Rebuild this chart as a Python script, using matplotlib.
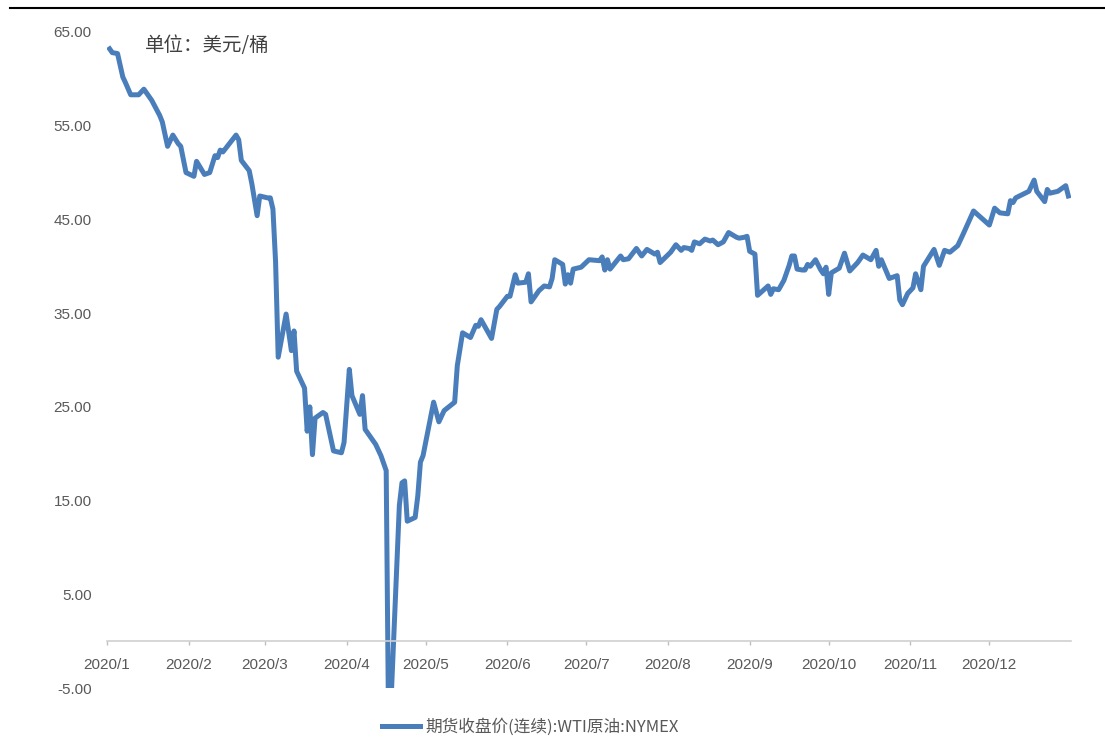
import pandas as pd
import numpy as np
import matplotlib
matplotlib.use('Agg')
import matplotlib.pyplot as plt
from matplotlib.lines import Line2D

# 期货收盘价(连续):WTI原油:NYMEX, 2020
dates = [
    '01-02', '01-03', '01-05', '01-07', '01-08', '01-10', '01-13', '01-15', '01-18', '01-21',
    '01-22', '01-24', '01-26', '01-28', '01-29', '01-31',
    '02-03', '02-04', '02-07', '02-09', '02-11', '02-12', '02-13', '02-14', '02-19', '02-20',
    '02-21', '02-24', '02-25', '02-27', '02-28',
    '03-02', '03-03', '03-04', '03-05', '03-06', '03-09', '03-11', '03-12', '03-13', '03-16',
    '03-17', '03-18', '03-19', '03-20', '03-23', '03-24', '03-27', '03-30', '03-31',
    '04-02', '04-03', '04-06', '04-07', '04-08', '04-12', '04-14', '04-16', '04-17',
    '04-21', '04-22', '04-23', '04-24', '04-27', '04-28', '04-29', '04-30',
    '05-04', '05-06', '05-08', '05-12', '05-13', '05-15', '05-18', '05-20', '05-21', '05-22',
    '05-26', '05-28', '05-29',
    '06-01', '06-02', '06-04', '06-05', '06-08', '06-09', '06-10', '06-13', '06-15', '06-17',
    '06-18', '06-19', '06-22', '06-23', '06-24', '06-25', '06-26', '06-29',
    '07-02', '07-06', '07-07', '07-08', '07-09', '07-10', '07-14', '07-15', '07-17', '07-20',
    '07-22', '07-24', '07-27', '07-28', '07-29',
    '08-02', '08-04', '08-06', '08-07', '08-09', '08-10', '08-11', '08-13', '08-15', '08-17',
    '08-18', '08-20', '08-22', '08-24', '08-27', '08-28', '08-30', '08-31',
    '09-01', '09-03', '09-04', '09-06', '09-08', '09-09', '09-10', '09-12', '09-14', '09-16',
    '09-17', '09-18', '09-19', '09-21', '09-22', '09-23', '09-24', '09-26', '09-28', '09-29',
    '09-30',
    '10-01', '10-02', '10-05', '10-07', '10-09', '10-12', '10-14', '10-17', '10-19', '10-20',
    '10-21', '10-24', '10-27', '10-28', '10-29', '10-31',
    '11-02', '11-03', '11-05', '11-06', '11-10', '11-12', '11-14', '11-16', '11-19', '11-21',
    '11-25',
    '12-01', '12-03', '12-05', '12-08', '12-09', '12-10', '12-11', '12-16', '12-18', '12-19',
    '12-22', '12-23', '12-24', '12-27', '12-30', '12-31',
]
prices = [
    63.2, 62.8, 62.7, 60.2, 59.6, 58.3, 58.3, 58.9, 57.7, 56.1,
    55.4, 52.8, 54.0, 53.1, 52.8, 50.0,
    49.6, 51.2, 49.8, 50.0, 51.8, 51.6, 52.4, 52.2, 54.0, 53.5,
    51.3, 50.2, 48.8, 45.4, 47.5,
    47.3, 47.3, 46.1, 40.5, 30.3, 34.9, 31.0, 33.1, 28.8, 27.0,
    22.4, 25.0, 19.9, 23.8, 24.4, 24.2, 20.3, 20.1, 21.2,
    29.0, 26.2, 24.2, 26.2, 22.6, 21.0, 19.8, 18.2, -12.0,
    14.5, 16.9, 17.1, 12.8, 13.2, 15.5, 19.1, 19.8,
    25.5, 23.4, 24.6, 25.5, 29.4, 32.9, 32.4, 33.7, 33.6, 34.3,
    32.3, 35.4, 35.7,
    36.8, 36.8, 39.1, 38.2, 38.3, 39.2, 36.2, 37.4, 37.9, 37.8,
    38.7, 40.7, 40.2, 38.1, 39.1, 38.2, 39.7, 39.9,
    40.7, 40.6, 41.0, 39.6, 40.7, 39.7, 41.1, 40.7, 40.8, 41.9,
    41.1, 41.8, 41.3, 41.5, 40.4,
    41.5, 42.3, 41.7, 42.0, 41.9, 41.7, 42.6, 42.4, 42.9, 42.7,
    42.8, 42.3, 42.6, 43.6, 43.1, 43.0, 43.1, 43.2,
    41.6, 41.3, 36.9, 37.4, 37.9, 37.0, 37.6, 37.5, 38.5, 40.1,
    41.1, 41.1, 39.7, 39.6, 39.6, 40.2, 40.0, 40.7, 39.6, 39.2,
    39.9,
    37.0, 39.3, 39.8, 41.4, 39.5, 40.4, 41.2, 40.7, 41.7, 40.0,
    40.7, 38.7, 39.0, 36.4, 35.9, 37.1,
    37.7, 39.2, 37.5, 40.0, 41.8, 40.1, 41.7, 41.5, 42.2, 43.4,
    45.9,
    44.4, 46.2, 45.7, 45.6, 47.0, 46.8, 47.3, 48.0, 49.2, 48.0,
    46.9, 48.2, 47.8, 48.0, 48.6, 47.5,
]
serie_nome = '期货收盘价(连续):WTI原油:NYMEX'
unidade = '单位：美元/桶'
y_ticks = [-5, 5, 15, 25, 35, 45, 55, 65]

x = pd.to_datetime(['2020-' + d for d in dates])

cor = '#4a7ebb'
cinza = '#595959'

fig = plt.figure(figsize=(11.05, 7.42), dpi=100)
ax = fig.add_axes([107 / 1105, 54 / 742, 964 / 1105, 656 / 742])

ax.plot(x, prices, color=cor, lw=3.6, solid_joinstyle='round', label=serie_nome)

ax.set_xlim(pd.Timestamp('2020-01-01'), pd.Timestamp('2021-01-01'))
ax.set_ylim(-5, 65)

ax.set_yticks(y_ticks)
ax.set_yticklabels([f'{v:.2f}' for v in y_ticks])
ax.tick_params(axis='y', length=0, pad=11, labelsize=11, labelcolor=cinza)

month_ticks = pd.date_range('2020-01-01', '2020-12-01', freq='MS')
ax.set_xticks(month_ticks)
ax.set_xticklabels([f'2020/{d.month}' for d in month_ticks])
ax.tick_params(axis='x', direction='out', length=3, width=1, color='#bfbfbf',
               pad=9, labelsize=11, labelcolor=cinza)

for lado in ['left', 'right', 'top']:
    ax.spines[lado].set_visible(False)
ax.spines['bottom'].set_position(('data', 0))
ax.spines['bottom'].set_color('#d0d0d0')
ax.spines['bottom'].set_linewidth(1.2)

for t in ax.get_xticklabels() + ax.get_yticklabels():
    t.set_family(['Liberation Sans', 'DejaVu Sans'])

fig.text(145 / 1105, 1 - 45 / 742, unidade,
         fontsize=14, color='#404040', va='center', ha='left',
         family=['Noto Sans CJK SC', 'DejaVu Sans'])

leg = fig.legend(loc='center', bbox_to_anchor=(530 / 1105, 1 - 727 / 742),
                 frameon=False, handlelength=2.3, handletextpad=0.3,
                 prop={'family': ['Noto Sans CJK SC', 'DejaVu Sans'], 'size': 12})
for t in leg.get_texts():
    t.set_color(cinza)

# linha preta no topo
fig.add_artist(Line2D([10 / 1105, 1.0], [1 - 8 / 742, 1 - 8 / 742],
                      color='black', lw=1.5, transform=fig.transFigure))

plt.savefig('out.png', dpi=100)
